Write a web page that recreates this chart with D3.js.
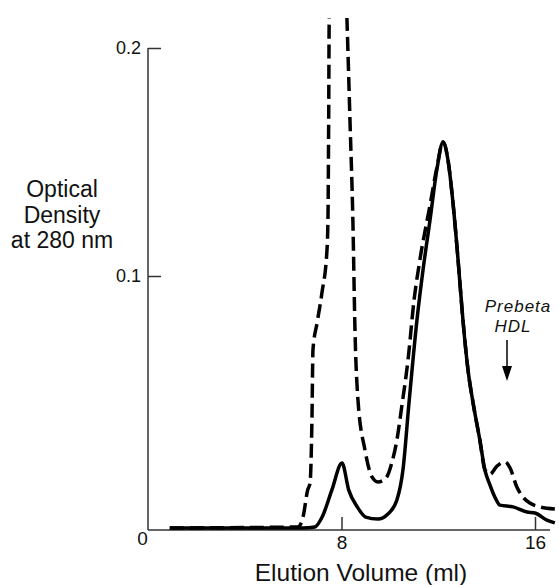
<!DOCTYPE html>
<html>
<head>
<meta charset="utf-8">
<script src="https://cdn.jsdelivr.net/npm/d3@7"></script>
<style>
  body { margin: 0; background: #fff; }
  text { font-family: "Liberation Sans", Arial, sans-serif; fill: #111; }
</style>
</head>
<body>
<div id="chart"></div>
<script>
// elution profile, optical density at 280 nm vs elution volume (ml)

// solid line
const solid = [
  [0.9, 0.0008], [6.4, 0.0008], [6.9, 0.0012], [7.2, 0.0051], [7.6, 0.0157],
  [8.02, 0.0264], [8.3, 0.0157], [8.65, 0.0091], [9.0, 0.0051], [9.5, 0.0043],
  [9.92, 0.0063], [10.29, 0.0118], [10.54, 0.0236], [10.79, 0.05], [11.12, 0.0827],
  [11.37, 0.1026], [11.66, 0.1246], [11.94, 0.1465], [12.2, 0.1588], [12.4, 0.151],
  [12.61, 0.132], [12.82, 0.107], [13.02, 0.0827], [13.23, 0.063], [13.44, 0.05],
  [13.72, 0.0354], [13.93, 0.0236], [14.14, 0.0177], [14.34, 0.013], [14.55, 0.0098],
  [15.09, 0.0091], [15.67, 0.0071], [16.0, 0.0067], [16.49, 0.0039], [16.82, 0.0028]
];

// dashed line (peak near 8 ml runs off the top)
const dashed = [
  [0.9, 0.0008], [6.2, 0.0012], [6.41, 0.0051], [6.6, 0.0157], [6.7, 0.0185],
  [6.78, 0.0445], [6.82, 0.0709], [6.99, 0.0815], [7.19, 0.0933], [7.4, 0.1114],
  [7.44, 0.1246], [7.47, 0.1684], [7.49, 0.211], [7.6, 0.25], [8.1, 0.25],
  [8.23, 0.211], [8.35, 0.1684], [8.47, 0.1246], [8.56, 0.0776], [8.68, 0.0512],
  [8.97, 0.0315], [9.26, 0.0209], [9.51, 0.0189], [9.84, 0.0205], [10.09, 0.0268],
  [10.29, 0.0354], [10.5, 0.0492], [10.75, 0.0669], [11.0, 0.0906], [11.24, 0.107],
  [11.66, 0.1311], [11.94, 0.1474], [12.2, 0.1588], [12.4, 0.151], [12.61, 0.132],
  [12.82, 0.107], [13.02, 0.0827], [13.23, 0.063], [13.44, 0.05], [13.72, 0.0354],
  [13.93, 0.0236], [14.14, 0.022], [14.43, 0.0252], [14.76, 0.0268], [14.97, 0.0244],
  [15.25, 0.0169], [15.5, 0.013], [15.79, 0.0106], [16.2, 0.0091], [16.82, 0.0083]
];

const xTicks = [0, 8, 16];
const yTicks = [0.1, 0.2];

const width = 559;
const height = 585;

const svg = d3.select("#chart")
    .append("svg")
    .attr("width", width)
    .attr("height", height);

// scales (the printed y axis is not quite even, so two segments)
const x = d3.scaleLinear().domain([0, 16]).range([148, 535]);
const y = d3.scaleLinear().domain([0, 0.1, 0.2]).range([530, 276, 48]);

// clip so the big dashed peak leaves the top edge
svg.append("clipPath")
    .attr("id", "clip")
    .append("rect")
    .attr("x", 148)
    .attr("y", 18)
    .attr("width", 420)
    .attr("height", 520);

// x axis
const xAxis = svg.append("g")
    .attr("transform", "translate(0,530)")
    .call(d3.axisBottom(x)
        .tickValues(xTicks)
        .tickSize(-13)
        .tickPadding(6)
        .tickFormat(d3.format("d")));
xAxis.select(".domain").attr("d", "M148,0H550");
xAxis.selectAll("text").style("font-size", "19px");
xAxis.selectAll(".tick").filter(d => d === 0).select("line").remove();
xAxis.selectAll(".tick").filter(d => d === 0).select("text")
    .attr("x", -6).attr("y", 1);

// y axis
const yAxis = svg.append("g")
    .attr("transform", "translate(148,0)")
    .call(d3.axisLeft(y)
        .tickValues(yTicks)
        .tickSize(-13)
        .tickPadding(7)
        .tickFormat(d3.format(".1f")));
yAxis.select(".domain").attr("d", "M0,48V530");
yAxis.selectAll("text").style("font-size", "18px");
svg.selectAll(".domain, .tick line").attr("stroke", "#333").attr("stroke-width", 1.5);

// curves
const line = d3.line()
    .x(d => x(d[0]))
    .y(d => y(d[1]))
    .curve(d3.curveMonotoneX);

svg.append("path")
    .datum(solid)
    .attr("clip-path", "url(#clip)")
    .attr("d", line)
    .attr("fill", "none")
    .attr("stroke", "#000")
    .attr("stroke-width", 3.5)
    .attr("stroke-linejoin", "round");

svg.append("path")
    .datum(dashed)
    .attr("clip-path", "url(#clip)")
    .attr("d", line)
    .attr("fill", "none")
    .attr("stroke", "#000")
    .attr("stroke-width", 3.5)
    .attr("stroke-dasharray", "14,6");

// axis titles
svg.append("text")
    .attr("x", 361)
    .attr("y", 581)
    .attr("text-anchor", "middle")
    .style("font-size", "24.5px")
    .text("Elution Volume (ml)");

const yTitle = svg.append("text")
    .attr("text-anchor", "middle")
    .style("font-size", "23px");
["Optical", "Density", "at 280 nm"].forEach(function(s, i) {
    yTitle.append("tspan")
        .attr("x", 62)
        .attr("y", 197 + i * 25.5)
        .text(s);
});

// prebeta HDL marker
svg.append("text")
    .attr("x", 518)
    .attr("y", 312)
    .attr("text-anchor", "middle")
    .style("font-size", "17px")
    .style("font-style", "italic")
    .style("letter-spacing", "1px")
    .text("Prebeta");

svg.append("text")
    .attr("x", 513)
    .attr("y", 332)
    .attr("text-anchor", "middle")
    .style("font-size", "17px")
    .style("font-style", "italic")
    .style("letter-spacing", "1px")
    .text("HDL");

svg.append("line")
    .attr("x1", 507).attr("x2", 507)
    .attr("y1", 340).attr("y2", 370)
    .attr("stroke", "#000")
    .attr("stroke-width", 1.5);

svg.append("path")
    .attr("d", "M502,366L512,366L507,381Z")
    .attr("fill", "#000");
</script>
</body>
</html>
